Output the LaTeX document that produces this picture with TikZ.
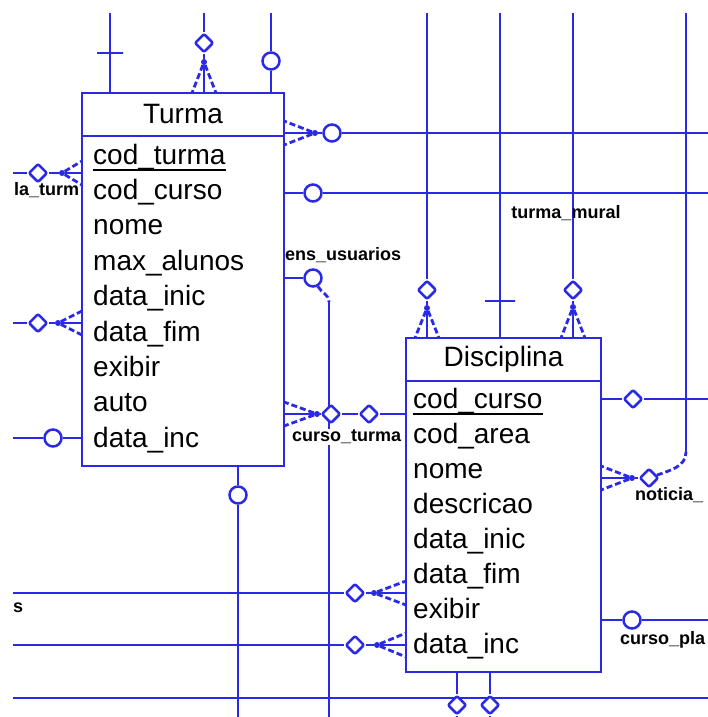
\documentclass[tikz,border=0pt]{standalone}
\usepackage{fontspec}
\setmainfont{Liberation Sans}
\usetikzlibrary{shapes.geometric, calc, positioning}
\definecolor{azul}{HTML}{2A2AE6}
\pgfdeclarelayer{fundo}
\pgfsetlayers{fundo,main}
\newcommand{\pataV}[2]{%
  \draw[rel] (#1) -- (#1 |- #2);
  \draw[rel, pe] (#1) -- ($(#1 |- #2)+(-12,0)$);
  \draw[rel, pe] (#1) -- ($(#1 |- #2)+(12,0)$);}
\newcommand{\pataH}[2]{%
  \draw[rel] (#1) -- (#2 |- #1);
  \draw[rel, pe] (#1) -- ($(#2 |- #1)+(0,-12)$);
  \draw[rel, pe] (#1) -- ($(#2 |- #1)+(0,12)$);}
\tikzset{
  entidade/.style={draw=azul, line width=2.8pt, fill=white, inner sep=0pt, outer sep=0pt,
                   font=\fontsize{28}{30}\selectfont},
  campo/.style={anchor=west, inner sep=0pt, text height=20pt, text depth=6pt,
                font=\fontsize{28}{30}\selectfont},
  rotulo/.style={inner sep=0pt, font=\fontsize{18}{20}\selectfont\bfseries},
  rel/.style={draw=azul, line width=2.8pt},
  pe/.style={dash pattern=on 6pt off 3pt},
  circulo/.style={circle, draw=azul, line width=2.5pt, fill=white, minimum size=17pt, inner sep=0pt},
  losango/.style={diamond, draw=azul, line width=2.5pt, fill=white, minimum size=19pt,
                  inner sep=0pt, rounded corners=2pt},
  ponto/.style={circle, fill=azul, minimum size=6pt, inner sep=0pt},
  barra/.style={draw=azul, line width=2.8pt, minimum height=0pt, inner sep=0pt},
}

\begin{document}
\begin{tikzpicture}[x=1pt, y=-1pt]
  \useasboundingbox (0,0) rectangle (707,717);
  \coordinate (sA) at (110,13); \coordinate (sB) at (204,13); \coordinate (sC) at (271,13);
  \coordinate (sD) at (427,13); \coordinate (sE) at (500,13); \coordinate (sF) at (573,13);
  \coordinate (sG) at (686,13); \coordinate (kG) at (686,452);
  \coordinate (eH) at (710,133); \coordinate (eI) at (710,193);
  \coordinate (eR1) at (710,399); \coordinate (eR3) at (710,620); \coordinate (eM3) at (710,698);
  \coordinate (wL1) at (13,173); \coordinate (wL2) at (13,323); \coordinate (wL3) at (13,438);
  \coordinate (wM1) at (13,593); \coordinate (wM2) at (13,645); \coordinate (wM3) at (13,698);
  \coordinate (bT) at (238,720); \coordinate (bJ) at (329,720); \coordinate (kJ) at (329,302);
  \coordinate (bD1) at (457,720); \coordinate (bD2) at (490,720);

  \node[rotulo] (lMural) at (566,213) {turma\_mural};
  \node[rotulo, anchor=west] (lEns) at (285,255) {ens\_usuarios};
  \node[rotulo, anchor=west, fill=white, inner sep=1pt] (lCurso) at (291,437) {curso\_turma};
  \node[rotulo, anchor=west] (lAula) at (14,190) {la\_turm};
  \node[rotulo, anchor=west] (lNoticia) at (635,495) {noticia\_};
  \node[rotulo, anchor=west] (lPlano) at (620,640) {curso\_pla};
  \node[rotulo, anchor=west] (lS) at (13,608) {s};

  \node[entidade, minimum width=202pt, minimum height=43pt] (turma) at (183,114.5) {Turma};
  \node[entidade, minimum width=202pt, minimum height=330pt, below=0pt of turma] (turmaC) {};
  \node[campo] (t1) at (93,157) {cod\_turma};
  \node[campo] (t2) at (93,192.4) {cod\_curso};
  \node[campo] (t3) at (93,227.8) {nome};
  \node[campo] (t4) at (93,263.2) {max\_alunos};
  \node[campo] (t5) at (93,298.6) {data\_inic};
  \node[campo] (t6) at (93,334) {data\_fim};
  \node[campo] (t7) at (93,369.4) {exibir};
  \node[campo] (t8) at (93,404.8) {auto};
  \node[campo] (t9) at (93,440.2) {data\_inc};
  \draw[line width=2pt] (t1.south west) -- (t1.south east);

  \node[entidade, minimum width=195pt, minimum height=43pt] (disc) at (503.5,359.5) {Disciplina};
  \node[entidade, minimum width=195pt, minimum height=291pt, below=0pt of disc] (discC) {};
  \node[campo] (d1) at (413,401) {cod\_curso};
  \node[campo] (d2) at (413,436.1) {cod\_area};
  \node[campo] (d3) at (413,471.2) {nome};
  \node[campo] (d4) at (413,506.3) {descricao};
  \node[campo] (d5) at (413,541.4) {data\_inic};
  \node[campo] (d6) at (413,576.5) {data\_fim};
  \node[campo] (d7) at (413,611.6) {exibir};
  \node[campo] (d8) at (413,646.7) {data\_inc};
  \draw[line width=2pt] (d1.south west) -- (d1.south east);

  \node[barra, minimum width=26pt] (bA) at (110,53) {};
  \node[losango] (oB) at (204,43) {};
  \node[ponto] (dB) at (204,62) {};
  \node[circulo] (oC) at (271,61) {};
  \node[losango] (oD) at (427,290) {};
  \node[ponto] (dD) at (427,308) {};
  \node[barra, minimum width=30pt] (bE) at (500,301) {};
  \node[losango] (oF) at (573,290) {};
  \node[ponto] (dF) at (573,307) {};
  \node[ponto] (dH) at (315,133) {};
  \node[circulo] (oH) at (332,133) {};
  \node[circulo] (oI) at (313,193) {};
  \node[circulo] (oJ) at (313,278) {};
  \node[ponto] (dK) at (317,414) {};
  \node[losango] (oK1) at (331,414) {};
  \node[losango] (oK2) at (369,414) {};
  \node[losango] (oL1) at (38,173) {};
  \node[ponto] (dL1) at (62,173) {};
  \node[losango] (oL2) at (38,323) {};
  \node[ponto] (dL2) at (58,323) {};
  \node[circulo] (oL3) at (53,438) {};
  \node[circulo] (oT) at (238,495) {};
  \node[losango] (oM1) at (355,593) {};
  \node[ponto] (dM1) at (374,593) {};
  \node[losango] (oM2) at (355,645) {};
  \node[ponto] (dM2) at (377,645) {};
  \node[losango] (oD1) at (457,705) {};
  \node[losango] (oD2) at (490,705) {};
  \node[losango] (oR1) at (633,399) {};
  \node[ponto] (dN) at (632,478) {};
  \node[losango] (oN) at (649,478) {};
  \node[circulo] (oR3) at (632,620) {};

  \begin{pgfonlayer}{fundo}
    \fill[white] (0,0) rectangle (707,717);
    \draw[rel] (sA) -- (bA) -- (bA |- turma.north);
    \draw[rel] (sB) -- (oB) -- (dB); \pataV{dB}{turma.north}
    \draw[rel] (sC) -- (oC) -- (oC |- turma.north);
    \draw[rel] (sD) -- (oD) -- (dD); \pataV{dD}{disc.north}
    \draw[rel] (sE) -- (bE) -- (bE |- disc.north);
    \draw[rel] (sF) -- (oF) -- (dF); \pataV{dF}{disc.north}
    \draw[rel] (sG) -- (kG);
    \draw[rel, pe] (oN) to[out=20, in=-90] (kG);
    \draw[rel] (dN) -- (oN); \pataH{dN}{discC.east}
    \pataH{dH}{turma.east} \draw[rel] (dH) -- (oH) -- (eH);
    \draw[rel] (turmaC.east |- oI) -- (oI) -- (eI);
    \draw[rel] (turmaC.east |- oJ) -- (oJ);
    \draw[rel, pe] (oJ) to[out=-60, in=90] (kJ);
    \draw[rel] (kJ) -- (bJ);
    \pataH{dK}{turmaC.east} \draw[rel] (dK) -- (oK1) -- (oK2) -- (discC.west |- oK2);
    \draw[rel] (wL1) -- (oL1) -- (dL1); \pataH{dL1}{turmaC.west}
    \draw[rel] (wL2) -- (oL2) -- (dL2); \pataH{dL2}{turmaC.west}
    \draw[rel] (wL3) -- (oL3) -- (turmaC.west |- oL3);
    \draw[rel] (oT |- turmaC.south) -- (oT) -- (bT);
    \draw[rel] (wM1) -- (oM1) -- (dM1); \pataH{dM1}{discC.west}
    \draw[rel] (wM2) -- (oM2) -- (dM2); \pataH{dM2}{discC.west}
    \draw[rel] (wM3) -- (eM3);
    \draw[rel] (oD1 |- discC.south) -- (oD1) -- (bD1);
    \draw[rel] (oD2 |- discC.south) -- (oD2) -- (bD2);
    \draw[rel] (discC.east |- oR1) -- (oR1) -- (eR1);
    \draw[rel] (discC.east |- oR3) -- (oR3) -- (eR3);
  \end{pgfonlayer}
\end{tikzpicture}
\end{document}
